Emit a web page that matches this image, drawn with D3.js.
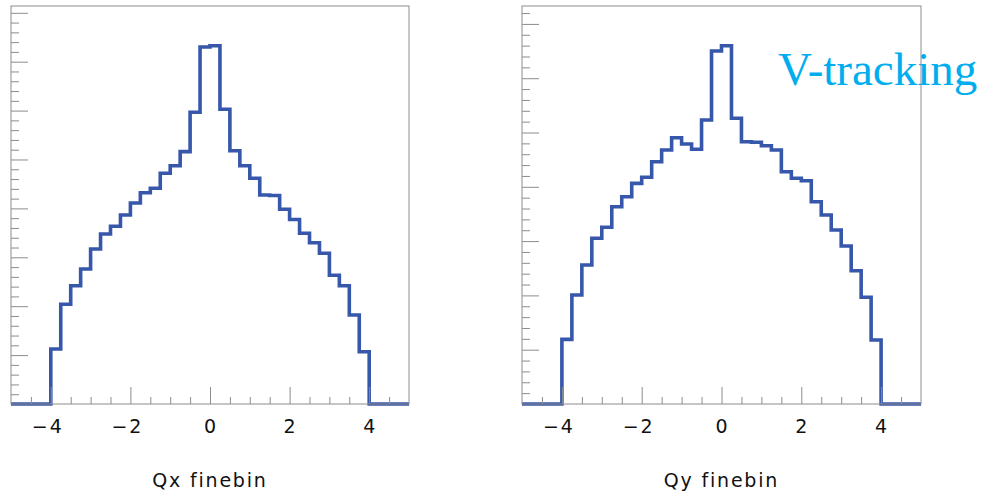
<!DOCTYPE html>
<html>
<head>
<meta charset="utf-8">
<script src="https://cdn.jsdelivr.net/npm/d3@7"></script>
<style>
  body { margin: 0; background: #fff; }
  svg { display: block; }
  .tick-label { font-family: "DejaVu Sans", sans-serif; font-size: 19px; letter-spacing: 2px; fill: #111; }
  .axis-title { font-family: "DejaVu Sans", sans-serif; font-size: 19px; letter-spacing: 1.8px; fill: #111; }
</style>
</head>
<body>
<svg id="chart" width="982" height="494"></svg>
<script>
// bin width 0.25, from -5 to 5 (40 bins)
const binLow = -5;
const binWidth = 0.25;

const qxCounts = [
  0, 0, 0, 0,
  1125, 2039, 2419, 2761, 3170, 3476, 3634, 3865,
  4110, 4321, 4411, 4718, 4873, 5160, 5965, 7301,
  7327, 6027, 5180, 4873, 4616, 4274, 4264, 3982,
  3773, 3491, 3299, 3082, 2632, 2419, 1820, 1070,
  0, 0, 0, 0
];

const qyCounts = [
  0, 0, 0, 0,
  1191, 2007, 2560, 3052, 3254, 3634, 3818, 4064,
  4175, 4462, 4678, 4904, 4788, 4691, 5230, 6501,
  6598, 5262, 4831, 4820, 4757, 4678, 4278, 4157,
  4112, 3726, 3481, 3204, 2910, 2455, 1965, 1179,
  0, 0, 0, 0
];

const xTickLabels = [-4, -2, 0, 2, 4];
const xMinorTicks = [-4.5, -3.5, -3, -2.5, -1.5, -1, -0.5, 0.5, 1, 1.5, 2.5, 3, 3.5, 4.5];

const panels = [
  { counts: qxCounts, title: 'Qx finebin', left: 11, right: 409, yMax: 8139, yMajor: 1000 },
  { counts: qyCounts, title: 'Qy finebin', left: 522, right: 921, yMax: 7330, yMajor: 1000 }
];

const TOP = 6, BOTTOM = 404;
const LINE_COLOR = '#3757aa';
const FRAME_COLOR = '#8c8c8c';

const svg = d3.select('#chart');

// label sits behind the frame
svg.append('text')
  .attr('x', 778).attr('y', 85)
  .style('font-family', '"Liberation Serif", "DejaVu Serif", serif')
  .style('font-size', '47px')
  .style('fill', '#00aeef')
  .text('V-tracking');

panels.forEach(p => {
  const x = d3.scaleLinear().domain([-5, 5]).range([p.left, p.right]);
  const y = d3.scaleLinear().domain([0, p.yMax]).range([BOTTOM, TOP]);
  const g = svg.append('g');

  // histogram as a step line
  const pts = p.counts.map((c, i) => [binLow + i * binWidth, c]);
  pts.push([binLow + p.counts.length * binWidth, p.counts[p.counts.length - 1]]);
  const line = d3.line()
    .x(d => x(d[0]))
    .y(d => y(d[1]))
    .curve(d3.curveStepAfter);
  g.append('path')
    .attr('d', line(pts))
    .attr('fill', 'none')
    .attr('stroke', LINE_COLOR)
    .attr('stroke-width', 3.6);

  // x ticks (pointing up into the frame)
  g.append('g')
    .attr('transform', `translate(0,${BOTTOM})`)
    .call(d3.axisBottom(x).tickValues(xMinorTicks).tickSize(-7).tickFormat(''))
    .call(a => a.select('.domain').remove())
    .call(a => a.selectAll('line').attr('stroke', FRAME_COLOR));
  g.append('g')
    .attr('transform', `translate(0,${BOTTOM})`)
    .call(d3.axisBottom(x).tickValues(xTickLabels).tickSize(-17).tickFormat(''))
    .call(a => a.select('.domain').remove())
    .call(a => a.selectAll('line').attr('stroke', FRAME_COLOR));

  // x tick labels
  g.selectAll('text.tick-label')
    .data(xTickLabels)
    .enter().append('text')
    .classed('tick-label', true)
    .attr('x', d => x(d) - (d < 0 ? 4 : 0) + 1)
    .attr('y', 433)
    .attr('text-anchor', 'middle')
    .text(d => d < 0 ? '\u2212' + Math.abs(d) : d);

  // y ticks on the left, no labels
  const yMinor = d3.range(0, p.yMax, p.yMajor / 5).filter(v => v % p.yMajor !== 0);
  const yMajors = d3.range(p.yMajor, p.yMax, p.yMajor);
  g.append('g')
    .attr('transform', `translate(${p.left},0)`)
    .call(d3.axisLeft(y).tickValues(yMinor).tickSize(-8).tickFormat(''))
    .call(a => a.select('.domain').remove())
    .call(a => a.selectAll('line').attr('stroke', FRAME_COLOR));
  g.append('g')
    .attr('transform', `translate(${p.left},0)`)
    .call(d3.axisLeft(y).tickValues(yMajors).tickSize(-17).tickFormat(''))
    .call(a => a.select('.domain').remove())
    .call(a => a.selectAll('line').attr('stroke', FRAME_COLOR));

  // frame
  g.append('rect')
    .attr('x', p.left).attr('y', TOP)
    .attr('width', p.right - p.left).attr('height', BOTTOM - TOP)
    .attr('fill', 'none')
    .attr('stroke', FRAME_COLOR)
    .attr('stroke-width', 1);

  // axis title
  g.append('text')
    .classed('axis-title', true)
    .attr('x', (p.left + p.right) / 2)
    .attr('y', 487)
    .attr('text-anchor', 'middle')
    .text(p.title);
});
</script>
</body>
</html>
